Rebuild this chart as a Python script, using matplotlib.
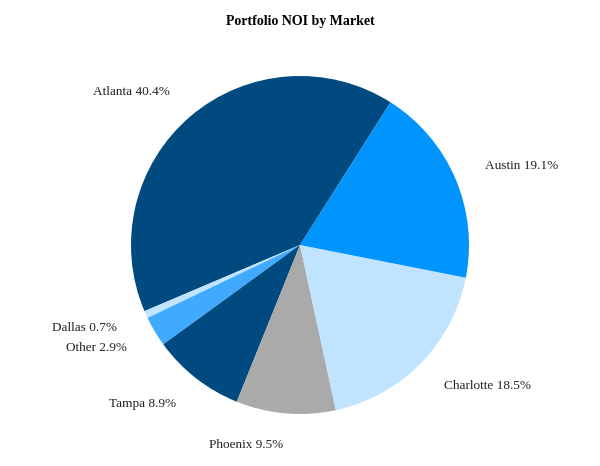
import matplotlib
matplotlib.use("Agg")
import matplotlib.pyplot as plt

# Portfolio NOI share by market (%), counterclockwise from Atlanta
markets = ["Atlanta", "Dallas", "Other", "Tampa", "Phoenix", "Charlotte", "Austin"]
shares = [40.4, 0.7, 2.9, 8.9, 9.5, 18.5, 19.1]
colors = ["#004a80", "#c0e4ff", "#40aaff", "#004a80", "#aaaaaa", "#c0e4ff", "#0094ff"]

plt.rcParams["font.family"] = ["Liberation Serif", "DejaVu Serif"]

W, H = 600, 466
fig = plt.figure(figsize=(W / 100, H / 100), dpi=100)

cx, cy, r = 300, 245, 169
ax = fig.add_axes([(cx - r) / W, (H - cy - r) / H, 2 * r / W, 2 * r / H])

labels = [f"{m} {v}%" for m, v in zip(markets, shares)]
ax.pie(shares, labels=labels, colors=colors, startangle=57.6,
       counterclock=True, labeldistance=1.19,
       textprops={"fontsize": 9.5, "color": "#222222"},
       wedgeprops={"linewidth": 0})
ax.set_xlim(-1, 1)
ax.set_ylim(-1, 1)
ax.set_aspect("equal")

fig.text(0.5, 1 - 22 / H, "Portfolio NOI by Market", ha="center", va="center",
         fontsize=10, fontweight="bold")

fig.savefig("out.png", dpi=100)
